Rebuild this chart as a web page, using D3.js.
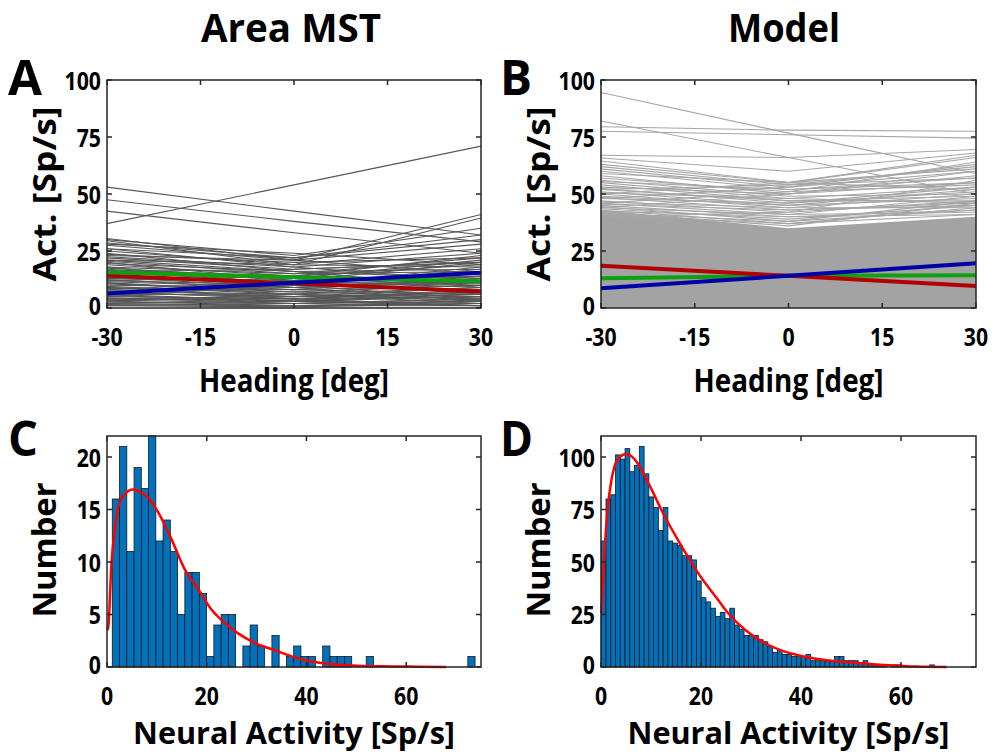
<!DOCTYPE html>
<html>
<head>
<meta charset="utf-8">
<script src="https://cdn.jsdelivr.net/npm/d3@7"></script>
<style>
  body { margin: 0; background: #fff; }
  text { font-family: "Open Sans", "DejaVu Sans", sans-serif; font-weight: bold; fill: #000; }
</style>
</head>
<body>
<div id="chart"></div>
<script>
// headings where tuning curves were sampled
const headings = [-30, 0, 30];

// Area MST: activity at -30, 0, 30 deg (one row per neuron)
const mstRates = [
  [37, 54, 71], [53, 42.5, 32], [47.5, 38, 29], [42.5, 33, 24],
  [30.5, 21, 41], [29.5, 19, 39.5], [30, 23, 35], [28.5, 22, 32],
  [27.5, 21, 28], [26, 22, 30], [25, 19, 26], [23.5, 20, 22],
  [22.5, 18, 24], [22, 17, 20], [21, 19, 18], [20.5, 15, 22],
  [19.5, 16, 17], [19, 14, 19], [18, 15, 16], [17.5, 13, 21],
  [17, 12, 14], [16.5, 14, 12], [16, 11, 15], [15, 13, 10],
  [14.5, 10, 17], [14, 12, 9], [13.5, 9, 13], [13, 11, 11],
  [12.5, 8, 14], [12, 10, 8], [11.5, 9, 12], [11, 7, 10],
  [10.5, 8, 6], [10, 9, 11], [9.5, 6, 9], [9, 7, 5],
  [8.5, 8, 10], [8, 5, 7], [7.5, 6, 4], [7, 4, 8],
  [6.5, 5, 6], [6, 6, 3], [5.5, 3, 5], [5, 4, 7],
  [4.5, 2, 4], [4, 3, 2], [3.5, 2, 3], [3, 1, 2],
  [2.5, 2, 1], [2, 1, 3], [1.5, 1, 1], [1, 0.5, 2],
  [8, 12, 20], [5, 10, 18], [12, 14, 23], [3, 6, 12],
  [26, 18, 12], [24, 16, 9], [20, 12, 6], [18, 10, 4],
  [15, 9, 3], [11, 6, 2], [9, 4, 1], [6, 3, 1],
  [4, 5, 9], [2, 3, 6], [1, 2, 4], [3.5, 4, 5],
  [28, 24, 19], [23, 21, 15], [21, 16, 13], [16, 17, 20]
];
const mstMeanGreen = [15.7, 13.5, 11.7];
const mstMeanRed = [14.2, 10.8, 7.2];
const mstMeanBlue = [6.4, 11.1, 15.5];

// Model: distinct upper curves, plus the envelope of the dense block below them
const modelRates = [
  [94.5, 76.7, 59], [82, 66, 50], [79.5, 78, 77.5], [77.5, 76, 74.5],
  [67, 66, 69.5], [65.8, 60, 68], [64.5, 55, 67], [63, 55, 61],
  [62, 54, 57], [61, 53, 60], [60, 52, 55], [59, 55, 52],
  [58, 50, 58], [57, 51, 54], [56, 49, 50], [55.5, 52, 57],
  [55, 48, 53], [54, 47, 49], [53, 50, 55], [52.5, 46, 51],
  [52, 47, 47], [51, 45, 52], [50.5, 48, 46], [50, 44, 50],
  [49, 45, 48], [48.5, 43, 45], [48, 46, 53], [47, 42, 47],
  [46.5, 44, 44], [46, 41, 49], [45.5, 43, 46], [45, 40, 43],
  [44.5, 38, 47], [44, 41, 42], [43.5, 39, 45], [43, 37, 44],
  [42.5, 40, 41], [42, 36, 46], [41.5, 38, 43], [41, 37, 41],
  [50, 55, 66], [48, 53, 63], [46, 51, 64], [44, 50, 60],
  [52, 54, 62], [40, 42, 56]
];
const modelBlockTop = [43, 35, 40];
const modelMeanGreen = [13, 14.1, 14.4];
const modelMeanRed = [18.5, 14.1, 9.7];
const modelMeanBlue = [8.7, 14.1, 19.6];

// histogram of MST activity
const mstBinStart = 1.06, mstBinWidth = 1.455;
const mstCounts = [16, 21, 11, 19, 17, 22, 12, 14, 11, 5, 9, 9, 7, 1, 4, 5, 5, 0, 2, 4,
  2, 0, 3, 0, 1, 2, 1, 1, 0, 2, 1, 1, 1, 0, 0, 1, 0, 0, 0, 0,
  0, 0, 0, 0, 0, 0, 0, 0, 0, 1];
const mstFit = [[0.1, 3.5], [0.3, 4], [0.9, 9.9], [1.5, 12.8], [2.3, 15.3], [3.6, 16.5],
  [5.2, 16.9], [6.5, 16.7], [8.3, 16.1], [10.3, 14.7], [12.9, 12.2], [15.6, 9.3],
  [18.3, 7.4], [20.9, 5.5], [23.6, 4.2], [26.3, 3.2], [29.6, 2.3], [33.6, 1.6],
  [39.3, 0.7], [42.6, 0.4], [49.3, 0.15], [55, 0.07], [62, 0.03], [68, 0.01]];

// histogram of model activity
const modelBinStart = 0.05, modelBinWidth = 0.952;
const modelCounts = [60, 80, 82, 101, 99, 104, 93, 96, 105, 92, 81, 76, 65, 76, 60, 59, 58, 53, 53, 51,
  41, 33, 31, 28, 24, 26, 23, 28, 20, 18, 15, 15, 15, 13, 12, 10, 7, 8, 6, 6,
  5, 5, 5, 6, 3, 3, 3, 3, 3, 5, 5, 3, 3, 3, 2, 3, 1, 1, 1, 1,
  0, 1, 1, 0, 0, 0, 0, 0, 0, 1];
const modelFit = [[0.07, 25.7], [0.73, 56], [1.4, 76.7], [2.4, 92.7], [3.4, 99], [5.07, 101.4],
  [6.7, 99], [9.4, 87.9], [12.7, 71.9], [16.1, 57.6], [19.4, 44.8], [23.4, 32],
  [25.4, 25.7], [28.8, 17.7], [32.8, 11.3], [36.8, 7.3], [40.8, 4.9], [44.8, 3.3],
  [50.1, 2.1], [56.5, 1], [63.1, 0.2], [69.1, 0]];

const headingTicks = [-30, -15, 0, 15, 30];
const rateTicks = [0, 25, 50, 75, 100];
const activityTicks = [0, 20, 40, 60];
const mstCountTicks = [0, 5, 10, 15, 20];
const modelCountTicks = [0, 25, 50, 75, 100];

const svg = d3.select("#chart").append("svg")
  .attr("width", 995).attr("height", 756);

// text squeezed horizontally, to look like the narrow original font
function label(x, y, str, size, anchor, rot, len) {
  let g = svg.append("g")
    .attr("transform", "translate(" + x + "," + y + ") rotate(" + (rot || 0) + ")" + (len ? "" : " scale(0.85,1)"));
  let t = g.append("text")
    .attr("text-anchor", anchor)
    .attr("font-size", size)
    .text(str);
  if (len) t.attr("textLength", len).attr("lengthAdjust", "spacingAndGlyphs");
  return t;
}

// box with inward ticks on every side, and tick labels
function frame(x, y, xTicks, yTicks) {
  let [x0, x1] = x.range(), [y0, y1] = y.range();
  let g = svg.append("g");
  let tl = 5;
  xTicks.forEach(function(t) {
    g.append("line").attr("x1", x(t)).attr("x2", x(t)).attr("y1", y0).attr("y2", y0 - tl);
    g.append("line").attr("x1", x(t)).attr("x2", x(t)).attr("y1", y1).attr("y2", y1 + tl);
    label(x(t), y0 + 38, t, 25, "middle");
  });
  yTicks.forEach(function(t) {
    g.append("line").attr("x1", x0).attr("x2", x0 + tl).attr("y1", y(t)).attr("y2", y(t));
    g.append("line").attr("x1", x1).attr("x2", x1 - tl).attr("y1", y(t)).attr("y2", y(t));
    // the bottom label sits a little higher so it clears the x labels
    label(x0 - 6, y(t) + (t === 0 ? 7 : 9.5), t, 25, "end");
  });
  g.selectAll("line").attr("stroke", "#262626").attr("stroke-width", 1.5);
  g.append("rect")
    .attr("x", x0).attr("y", y1).attr("width", x1 - x0).attr("height", y0 - y1)
    .attr("fill", "none").attr("stroke", "#262626").attr("stroke-width", 1.5);
}

function tuningPanel(left, right, rows, lineColor, block, means) {
  let x = d3.scaleLinear().domain([-30, 30]).range([left, right]);
  let y = d3.scaleLinear().domain([0, 100]).range([308, 80]);
  let line = d3.line()
    .x(function(d, i) { return x(headings[i]); })
    .y(function(d) { return y(d); });
  if (block) {
    let area = d3.area()
      .x(function(d, i) { return x(headings[i]); })
      .y0(y(0))
      .y1(function(d) { return y(d); });
    svg.append("path").attr("d", area(block)).attr("fill", "#a3a3a3");
  }
  svg.append("g").selectAll("path")
    .data(rows)
    .enter().append("path")
    .attr("d", line)
    .attr("fill", "none")
    .attr("stroke", lineColor)
    .attr("stroke-width", 1.1);
  means.forEach(function(m) {
    svg.append("path")
      .attr("d", line(m.values))
      .attr("fill", "none")
      .attr("stroke", m.color)
      .attr("stroke-width", 4);
  });
  frame(x, y, headingTicks, rateTicks);
  label((left + right) / 2, 392, "Heading [deg]", 32, "middle", 0, 190);
  label(left - 51, 194, "Act. [Sp/s]", 32, "middle", -90, 175);
}

function histPanel(left, right, yMax, binStart, binWidth, counts, fit, yTicks) {
  let x = d3.scaleLinear().domain([0, 75]).range([left, right]);
  let y = d3.scaleLinear().domain([0, yMax]).range([667, 436]);
  // keep each bin's index, then drop the empty ones
  let bins = counts.map(function(c, i) { return {count: c, lo: binStart + i * binWidth}; })
    .filter(function(b) { return b.count > 0; });
  svg.append("g").selectAll("rect")
    .data(bins)
    .enter().append("rect")
    .attr("x", function(d) { return x(d.lo); })
    .attr("width", x(binWidth) - x(0))
    .attr("y", function(d) { return y(d.count); })
    .attr("height", function(d) { return y(0) - y(d.count); })
    .attr("fill", "#0072bd")
    .attr("stroke", "#1a1a1a")
    .attr("stroke-width", 0.8);
  let curve = d3.line()
    .curve(d3.curveMonotoneX)
    .x(function(d) { return x(d[0]); })
    .y(function(d) { return y(d[1]); });
  svg.append("path")
    .attr("d", curve(fit))
    .attr("fill", "none")
    .attr("stroke", "#ff0000")
    .attr("stroke-width", 2.5);
  frame(x, y, activityTicks, yTicks);
  label((left + right) / 2, 744, "Neural Activity [Sp/s]", 30, "middle", 0, 322);
  label(left - 51, 550, "Number", 32, "middle", -90, 135);
}

tuningPanel(107, 481, mstRates, "#575757", null, [
  {values: mstMeanRed, color: "#b00000"},
  {values: mstMeanGreen, color: "#0fa00f"},
  {values: mstMeanBlue, color: "#0000a8"}
]);
tuningPanel(601, 976, modelRates, "#a6a6a6", modelBlockTop, [
  {values: modelMeanGreen, color: "#0fa00f"},
  {values: modelMeanRed, color: "#b00000"},
  {values: modelMeanBlue, color: "#0000a8"}
]);
histPanel(107, 481, 22, mstBinStart, mstBinWidth, mstCounts, mstFit, mstCountTicks);
histPanel(601, 976, 110, modelBinStart, modelBinWidth, modelCounts, modelFit, modelCountTicks);

// titles and panel letters
label(291, 42, "Area MST", 40, "middle", 0, 180);
label(784, 42, "Model", 40, "middle", 0, 112);
label(8, 95, "A", 48, "start", 0, 34);
label(500, 95, "B", 48, "start", 0, 32);
label(8, 456, "C", 48, "start", 0, 30);
label(500, 456, "D", 48, "start", 0, 33);
</script>
</body>
</html>
